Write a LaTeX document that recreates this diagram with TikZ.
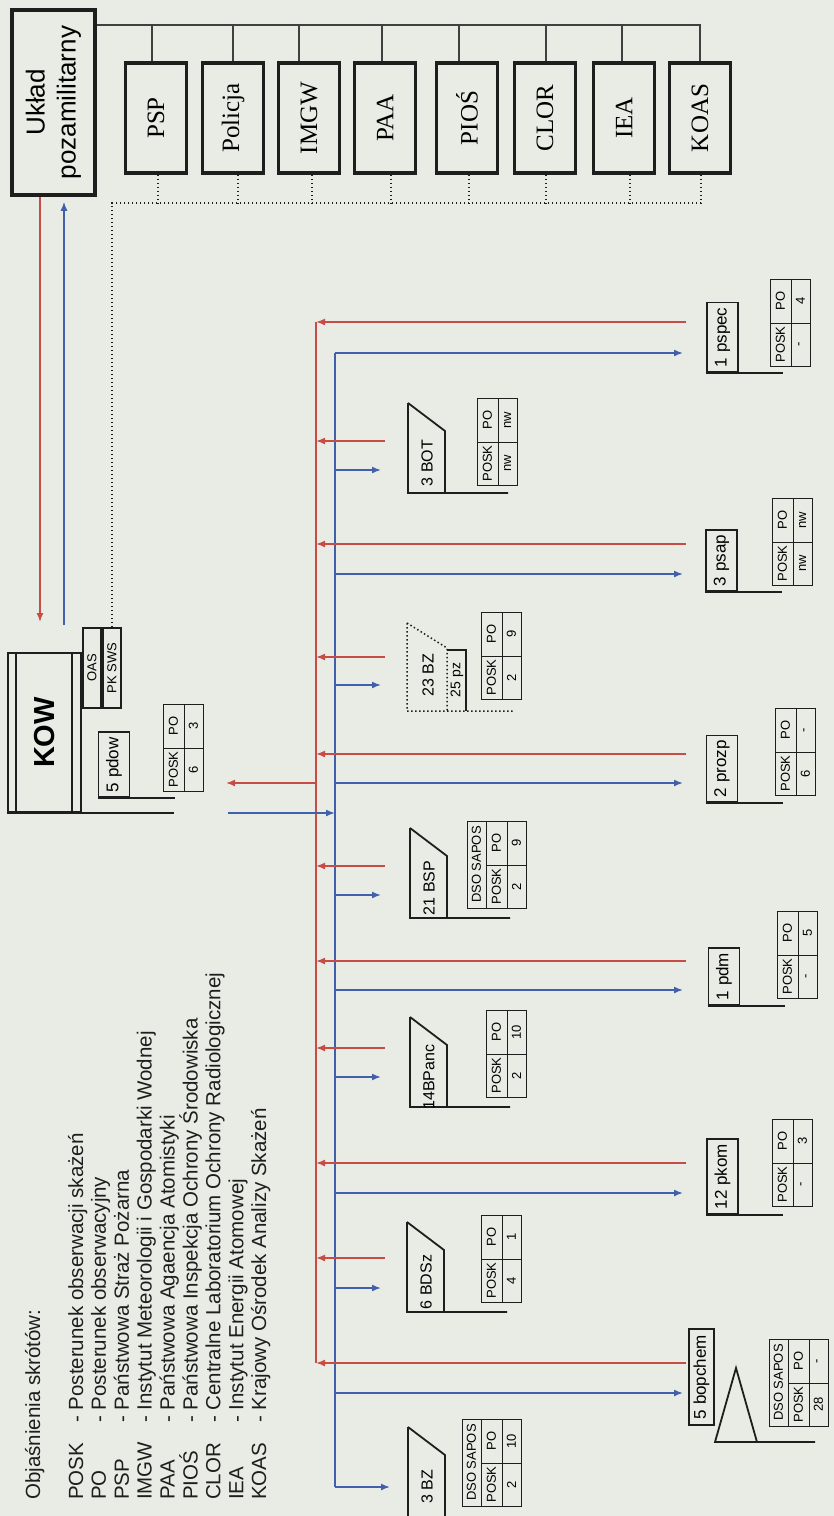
\documentclass[tikz,border=0pt]{standalone}
\usepackage{fontspec}
\setmainfont{Liberation Serif}
\setsansfont{Liberation Sans}
\usetikzlibrary{arrows.meta}

\definecolor{papier}{RGB}{233,236,229}
\definecolor{tusz}{RGB}{30,30,30}
\definecolor{czerw}{RGB}{200,76,70}
\definecolor{nieb}{RGB}{64,96,170}

\newcommand\tabPO[4]{%
  \begin{scope}[shift={#2}]
    \draw[siatka] (0,0) rectangle (40,87) (21,0) -- (21,87) (0,44) -- (40,44);
    \node[komorka] (#1-po) at (10.5,22) {PO};
    \node[komorka] (#1-posk) at (10.5,65.5) {POSK};
    \node[komorka] (#1-vpo) at (30.5,22) {#4};
    \node[komorka] (#1-vposk) at (30.5,65.5) {#3};
  \end{scope}}
\newcommand\tabDSO[4]{%
  \begin{scope}[shift={#2}]
    \draw[siatka] (0,0) rectangle (19,87);
    \node[komorka] (#1-dso) at (9.5,43.5) {DSO SAPOS};
    \tabPO{#1}{(19,0)}{#3}{#4}
  \end{scope}}
\newcommand\brygada[3]{%
  \begin{scope}[shift={#2}]
    \draw[znak] (0,0) -- (37,28) -- (37,90) (0,0) -- (0,90) -- (100,90);
    \node[jedn] (#1) at (19,60) {#3};
  \end{scope}}
\newcommand\pododdzial[3]{%
  \node[ramka, anchor=west] (#1) at #2 {#3};
  \draw[znak] (#1.north west) -- +(77,0);}

\begin{document}
\begin{tikzpicture}[x=1pt,y=-1pt,
  instyt/.style={draw=tusz, line width=3.5pt, rotate=90, minimum width=110pt,
    minimum height=61pt, inner sep=0pt, font=\fontsize{25}{28}\selectfont},
  uklbox/.style={draw=tusz, line width=3.5pt, rotate=90, minimum width=185pt,
    minimum height=83pt, inner sep=0pt, align=center,
    font=\sffamily\fontsize{26}{31}\selectfont},
  kowbox/.style={draw=tusz, line width=2.2pt, rotate=90, minimum width=159pt,
    minimum height=73pt, inner sep=0pt, font=\sffamily\bfseries\fontsize{29}{32}\selectfont},
  oasbox/.style={draw=tusz, line width=1.8pt, rotate=90, minimum width=80pt,
    minimum height=18pt, inner sep=0pt, font=\sffamily\fontsize{13}{15}\selectfont},
  ramka/.style={draw=tusz, line width=1.8pt, rotate=90, minimum height=31pt,
    inner xsep=5pt, inner ysep=0pt, font=\sffamily\fontsize{17}{20}\selectfont},
  jedn/.style={rotate=90, inner sep=0pt, font=\sffamily\fontsize{16}{19}\selectfont},
  komorka/.style={rotate=90, inner sep=0pt, font=\sffamily\fontsize{13}{15}\selectfont},
  opis/.style={rotate=90, inner sep=0pt, text=tusz, font=\sffamily\fontsize{20.5}{23}\selectfont},
  znak/.style={draw=tusz, line width=1.8pt},
  siatka/.style={draw=tusz, line width=0.8pt},
  kowlinia/.style={draw=tusz, line width=1.6pt},
  laczn/.style={draw=tusz!85, line width=1.2pt},
  kropki/.style={draw=tusz, line width=1.5pt, dash pattern=on 1.5pt off 2.5pt},
  czline/.style={czerw, line width=1.6pt},
  nbline/.style={nieb, line width=1.6pt},
  strzc/.style={czline, -{Latex[length=9pt,width=7pt]}},
  strzn/.style={nbline, -{Latex[length=9pt,width=7pt]}}]

\useasboundingbox (0,0) rectangle (834,1516);
\fill[papier] (0,0) rectangle (834,1516);
\clip (0,0) rectangle (834,1516);

\node[uklbox] (uklad) at (53.5,102.5) {Układ\\pozamilitarny};
\foreach \n/\t/\x in {psp/PSP/156,policja/Policja/233,imgw/IMGW/309,paa/PAA/385,
    pios/PIOŚ/467,clor/CLOR/545,iea/IEA/624,koas/KOAS/700}
  \node[instyt] (\n) at (\x,118) {\t};

\coordinate (szyna) at (0,25);
\coordinate (kropy) at (0,203);
\draw[laczn] (uklad.south |- szyna) -| (koas.east);
\foreach \n/\d in {psp/-4,policja/0,imgw/-10,paa/-3,pios/-8,clor/1,iea/-2}
  \draw[laczn] ([xshift=\d pt]\n.east) -- ([xshift=\d pt]\n.east |- szyna);
\foreach \n/\d in {psp/2,policja/5,imgw/3,paa/6,pios/2,clor/1,iea/6}
  \draw[kropki] ([xshift=\d pt]\n.west) -- ([xshift=\d pt]\n.west |- kropy);

\node[kowbox] (kow) at (44.5,732.5) {KOW};
\draw[kowlinia] ([xshift=9pt]kow.north west) -- ([xshift=9pt]kow.north east);
\draw[kowlinia] ([xshift=-10pt]kow.south west) -- ([xshift=-10pt]kow.south east);
\draw[znak] (kow.north west) -- +(167,0);
\node[oasbox] (oas) at (92,668) {OAS};
\node[oasbox] (pksws) at (112,668) {PK SWS};
\draw[kropki] ([xshift=1pt]koas.west) -- ([xshift=1pt]koas.west |- kropy) -| (pksws.east);

\coordinate (zkow) at (40,622);
\coordinate (zukl) at (64,625);
\draw[strzc] (uklad.west -| zkow) -- (zkow);
\draw[strzn, shorten >=5pt] (zukl) -- (zukl |- uklad.west);

\pododdzial{pdow}{(114,798)}{5 pdow}
\tabPO{tpdow}{(163,704)}{6}{3}

\coordinate (czTop) at (316,322);
\coordinate (czBot) at (316,1363);
\coordinate (nbTop) at (335,353);
\coordinate (nbBot) at (335,1487);
\draw[czline] (czTop) -- (czBot);
\draw[nbline] (nbTop) -- (nbBot);
\foreach \yc/\yn in {322/353,544/574,754/783,961/990,1163/1193,1363/1393}{
  \coordinate (p) at (686,\yc);
  \coordinate (q) at (683,\yn);
  \draw[strzc] (p) -- (p -| czTop);
  \draw[strzn] (q -| nbTop) -- (q);
}
\foreach \yc/\yn in {441/470,657/685,866/895,1048/1077,1258/1288}{
  \coordinate (p) at (385,\yc);
  \coordinate (q) at (381,\yn);
  \draw[strzc] (p) -- (p -| czTop);
  \draw[strzn] (q -| nbTop) -- (q);
}
\draw[strzn] (nbBot) -- +(55,0);
\coordinate (p) at (226,783);
\coordinate (q) at (228,813);
\draw[strzc] (p -| czTop) -- (p);
\draw[strzn] (q) -- (q -| nbTop);

\brygada{bot}{(408,403)}{3 BOT}
\tabPO{tbot}{(477,398)}{nw}{nw}
\begin{scope}[shift={(407,623)}]
  \draw[kropki] (0,0) -- (40,25) -- (40,88) (0,0) -- (0,88) -- (106,88);
  \draw[znak, line width=1.2pt] (40,27) -- (59,27) -- (59,88);
  \node[jedn] (bz23) at (21,52) {23 BZ};
  \node[jedn, font=\sffamily\fontsize{14}{16}\selectfont] (pz25) at (50,57) {25 pz};
\end{scope}
\tabPO{tbz23}{(481,612)}{2}{9}
\brygada{bsp}{(410,828)}{21 BSP}
\tabDSO{tbsp}{(467,821)}{2}{9}
\brygada{bpanc}{(410,1017)}{14BPanc}
\tabPO{tbpanc}{(486,1010)}{2}{10}
\brygada{bdsz}{(407,1222)}{6 BDSz}
\tabPO{tbdsz}{(481,1215)}{4}{1}
\brygada{bz3}{(408,1427)}{3 BZ}
\tabDSO{tbz3}{(462,1419)}{2}{10}

\pododdzial{pspec}{(722.5,373)}{1 pspec}
\tabPO{tpspec}{(770,279)}{-}{4}
\pododdzial{psap}{(721.5,592)}{3 psap}
\tabPO{tpsap}{(772,498)}{nw}{nw}
\pododdzial{prozp}{(722,803)}{2 prozp}
\tabPO{tprozp}{(775,708)}{6}{-}
\pododdzial{pdm}{(724,1006)}{1 pdm}
\tabPO{tpdm}{(777,911)}{-}{5}
\pododdzial{pkom}{(722.5,1215)}{12 pkom}
\tabPO{tpkom}{(772,1119)}{-}{3}
\node[ramka, anchor=west, minimum height=25pt, inner xsep=6pt] (bopchem) at (701.5,1426) {5 bopchem};
\draw[znak] (736,1368) -- (715,1442) -- (757,1442) -- cycle (715,1442) -- (815,1442);
\tabDSO{tbopchem}{(769,1339)}{28}{-}

\node[opis, anchor=base west] (tytul) at (40,1500) {Objaśnienia skrótów:};
\foreach \i/\skr/\tekst in {0/POSK/Posterunek obserwacji skażeń,
    1/PO/Posterunek obserwacyjny,
    2/PSP/Państwowa Straż Pożarna,
    3/IMGW/Instytut Meteorologii i Gospodarki Wodnej,
    4/PAA/Państwowa Agaencja Atomistyki,
    5/PIOŚ/Państwowa Inspekcja Ochrony Środowiska,
    6/CLOR/Centralne Laboratorium Ochrony Radiologicznej,
    7/IEA/Instytut Energii Atomowej,
    8/KOAS/Krajowy Ośrodek Analizy Skażeń}{
  \node[opis, anchor=base west] (skr\i) at (83+22.9*\i,1500) {\skr};
  \node[opis, anchor=base west] (opis\i) at (83+22.9*\i,1423) {- \tekst};
}

\end{tikzpicture}
\end{document}
